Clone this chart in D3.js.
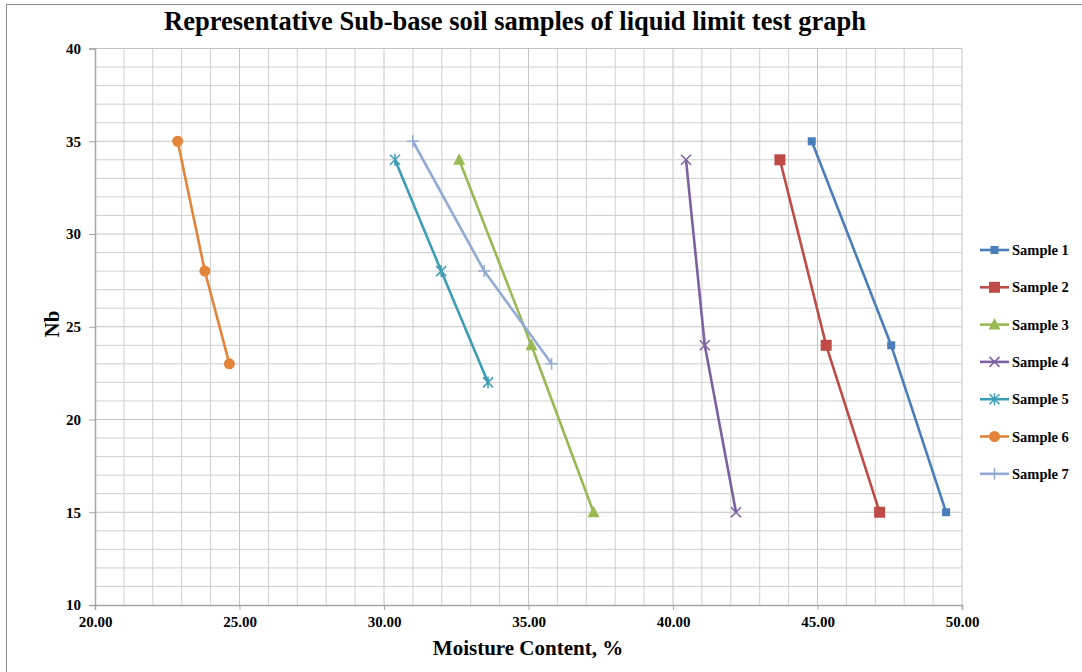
<!DOCTYPE html>
<html>
<head>
<meta charset="utf-8">
<script src="https://cdn.jsdelivr.net/npm/d3@7"></script>
<style>
  html, body { margin: 0; padding: 0; background: #fff; }
  svg { display: block; }
  text { font-family: "Liberation Serif", "Times New Roman", serif; font-weight: bold; fill: #000; }
</style>
</head>
<body>
<svg id="chart" width="1082" height="672"></svg>
<script>
// Liquid limit test: moisture content (%) against number of blows (Nb)
const seriesNames = ["Sample 1", "Sample 2", "Sample 3", "Sample 4", "Sample 5", "Sample 6", "Sample 7"];
const sample1 = [[44.8, 35], [47.55, 24], [49.45, 15]];
const sample2 = [[43.7, 34], [45.3, 24], [47.15, 15]];
const sample3 = [[32.6, 34], [35.1, 24], [37.25, 15]];
const sample4 = [[40.45, 34], [41.1, 24], [42.18, 15]];
const sample5 = [[30.38, 34], [31.98, 28], [33.6, 22]];
const sample6 = [[22.86, 35], [23.8, 28], [24.65, 23]];
const sample7 = [[31.0, 35], [33.47, 28], [35.8, 23]];
const xTicks = [20, 25, 30, 35, 40, 45, 50];
const yTicks = [10, 15, 20, 25, 30, 35, 40];

const seriesData = [sample1, sample2, sample3, sample4, sample5, sample6, sample7];
const colors = ["#4A7EBB", "#BE4B48", "#98B954", "#7D60A0", "#3E9DB6", "#E2843A", "#93ABD3"];
const markers = ["squareSmall", "square", "triangle", "x", "asterisk", "circle", "plus"];

const svg = d3.select("#chart");

// outer frame
svg.append("rect")
  .attr("x", 6.5).attr("y", 4.5).attr("width", 1100).attr("height", 700)
  .attr("fill", "none").attr("stroke", "#8c8c8c").attr("stroke-width", 1);

const plot = { left: 95, right: 962, top: 48.5, bottom: 605 };
const x = d3.scaleLinear().domain([20, 50]).range([plot.left, plot.right]);
const y = d3.scaleLinear().domain([10, 40]).range([plot.bottom, plot.top]);

// gridlines every unit
const grid = svg.append("g");
grid.selectAll("line.v").data(d3.range(21, 51)).join("line")
  .attr("x1", d => x(d)).attr("x2", d => x(d))
  .attr("y1", plot.top).attr("y2", plot.bottom)
  .attr("stroke", d => d % 5 === 0 ? "#c4c4c4" : "#cfcfcf").attr("stroke-width", 1);
grid.selectAll("line.h").data(d3.range(11, 41)).join("line")
  .attr("x1", plot.left).attr("x2", plot.right)
  .attr("y1", d => y(d)).attr("y2", d => y(d))
  .attr("stroke", d => d % 5 === 0 ? "#c4c4c4" : "#cfcfcf").attr("stroke-width", 1);

// axes
const xAxis = d3.axisBottom(x).tickValues(xTicks).tickFormat(d3.format(".2f")).tickSize(5).tickPadding(6);
const yAxis = d3.axisLeft(y).tickValues(yTicks).tickFormat(d3.format("d")).tickSize(6).tickPadding(8);

const gx = svg.append("g").attr("transform", `translate(0,${plot.bottom})`).call(xAxis);
const gy = svg.append("g").attr("transform", `translate(${plot.left},0)`).call(yAxis);
[gx, gy].forEach(g => {
  g.selectAll("path.domain").attr("stroke", "#a6a6a6").attr("stroke-width", 1.5);
  g.selectAll(".tick line").attr("stroke", "#a6a6a6");
  g.selectAll(".tick text").style("font-family", "Liberation Serif, serif").style("font-weight", "bold").style("font-size", "15px").attr("fill", "#000");
});

// titles
svg.append("text").attr("x", 515).attr("y", 30).attr("text-anchor", "middle")
  .style("font-size", "26.5px").text("Representative Sub-base soil samples of liquid limit test graph");
svg.append("text").attr("x", 528).attr("y", 655).attr("text-anchor", "middle")
  .style("font-size", "21px").text("Moisture Content, %");
svg.append("text").attr("transform", "translate(59,324) rotate(-90)").attr("text-anchor", "middle")
  .style("font-size", "21px").text("Nb");

// marker drawing
function drawMarker(g, type, color, cx, cy) {
  switch (type) {
    case "squareSmall":
      g.append("rect").attr("x", cx - 4).attr("y", cy - 4).attr("width", 8).attr("height", 8).attr("fill", color);
      break;
    case "square":
      g.append("rect").attr("x", cx - 5.5).attr("y", cy - 5.5).attr("width", 11).attr("height", 11).attr("fill", color);
      break;
    case "triangle":
      g.append("path").attr("d", `M${cx},${cy - 6.5}L${cx + 6},${cy + 5}L${cx - 6},${cy + 5}Z`).attr("fill", color);
      break;
    case "circle":
      g.append("circle").attr("cx", cx).attr("cy", cy).attr("r", 5.5).attr("fill", color);
      break;
    case "x":
      g.append("path").attr("d", `M${cx - 5},${cy - 5}L${cx + 5},${cy + 5}M${cx - 5},${cy + 5}L${cx + 5},${cy - 5}`)
        .attr("stroke", color).attr("stroke-width", 1.5).attr("fill", "none");
      break;
    case "asterisk":
      g.append("path").attr("d", `M${cx - 5},${cy - 5}L${cx + 5},${cy + 5}M${cx - 5},${cy + 5}L${cx + 5},${cy - 5}M${cx},${cy - 6}L${cx},${cy + 6}`)
        .attr("stroke", color).attr("stroke-width", 1.5).attr("fill", "none");
      break;
    case "plus":
      g.append("path").attr("d", `M${cx - 6},${cy}L${cx + 6},${cy}M${cx},${cy - 6}L${cx},${cy + 6}`)
        .attr("stroke", color).attr("stroke-width", 1.5).attr("fill", "none");
      break;
  }
}

// series lines and markers
const line = d3.line().x(d => x(d[0])).y(d => y(d[1]));
seriesData.forEach((data, i) => {
  const g = svg.append("g");
  g.append("path").datum(data).attr("d", line)
    .attr("fill", "none").attr("stroke", colors[i]).attr("stroke-width", 2.6).attr("stroke-linejoin", "round");
  data.forEach(d => drawMarker(g, markers[i], colors[i], x(d[0]), y(d[1])));
});

// legend
const legend = svg.append("g");
seriesNames.forEach((name, i) => {
  const ly = 250 + i * 37.3;
  const g = legend.append("g");
  g.append("line").attr("x1", 980).attr("x2", 1009).attr("y1", ly).attr("y2", ly)
    .attr("stroke", colors[i]).attr("stroke-width", 2.6);
  drawMarker(g, markers[i], colors[i], 994.5, ly);
  g.append("text").attr("x", 1012).attr("y", ly + 5).style("font-size", "14.5px").text(name);
});
</script>
</body>
</html>
